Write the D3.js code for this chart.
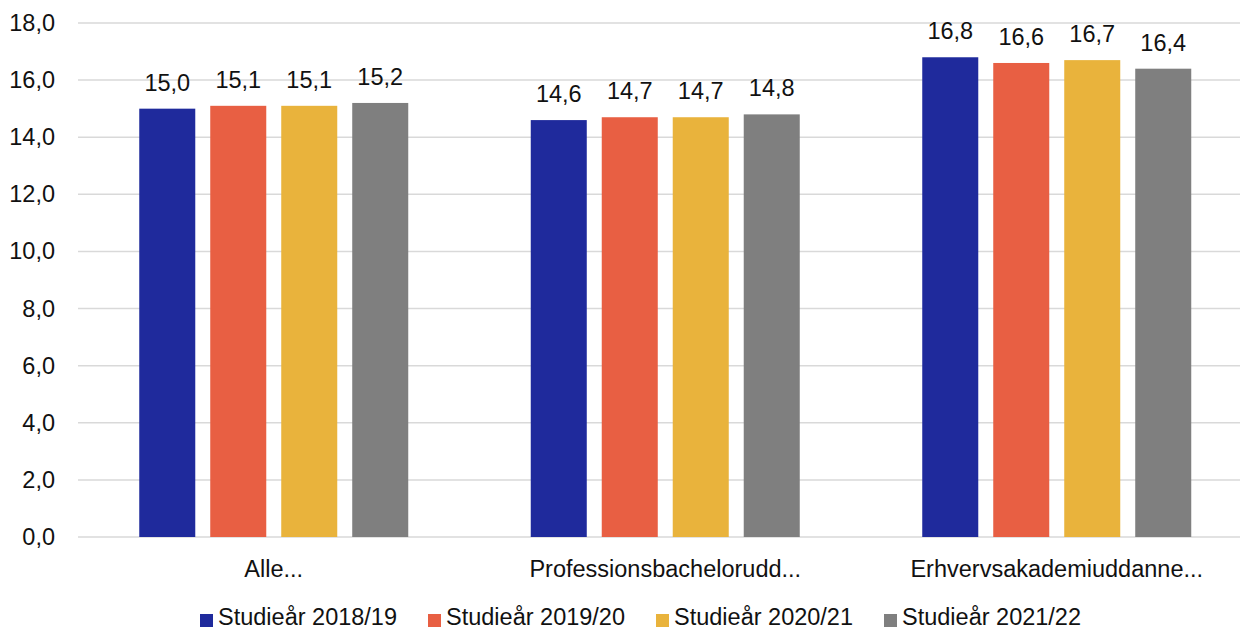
<!DOCTYPE html>
<html>
<head>
<meta charset="utf-8">
<script src="https://cdn.jsdelivr.net/npm/d3@7"></script>
<style>
  body { margin: 0; background: #fff; }
  svg { font-family: "Liberation Sans", Arial, sans-serif; }
</style>
</head>
<body>
<div class="plot1"></div>
<script>
var categories = ["Alle...", "Professionsbachelorudd...", "Erhvervsakademiuddanne..."];
var seriesNames = ["Studieår 2018/19", "Studieår 2019/20", "Studieår 2020/21", "Studieår 2021/22"];
var seriesColors = ["#1f2a9c", "#e85f43", "#e9b33c", "#7f7f7f"];
var values2018 = [15.0, 14.6, 16.8];
var values2019 = [15.1, 14.7, 16.6];
var values2020 = [15.1, 14.7, 16.7];
var values2021 = [15.2, 14.8, 16.4];
var yTicks = [0, 2, 4, 6, 8, 10, 12, 14, 16, 18];

var allValues = [values2018, values2019, values2020, values2021];

function plotBars() {
  var width = 1240;
  var height = 630;
  var fs = "23.5px";

  var svg = d3.select(".plot1").append("svg")
    .attr("width", width)
    .attr("height", height);

  var x0 = d3.scaleBand()
    .domain(categories)
    .range([78, 1252.5]);

  var x1 = d3.scaleBand()
    .domain(seriesNames)
    .range([0, 269])
    .paddingInner(0.211);

  var y = d3.scaleLinear()
    .domain([0, 18])
    .range([537, 23]);

  var fmt = function(v) { return d3.format(".1f")(v).replace(".", ","); };

  // gridlines
  svg.append("g")
    .selectAll("line")
    .data(yTicks)
    .join("line")
    .attr("x1", 78)
    .attr("x2", width)
    .attr("y1", d => y(d))
    .attr("y2", d => y(d))
    .attr("stroke", "#d9d9d9")
    .attr("stroke-width", 1.5);

  // y tick labels
  svg.append("g")
    .selectAll("text")
    .data(yTicks)
    .join("text")
    .attr("x", 55)
    .attr("y", d => y(d) + 8)
    .attr("text-anchor", "end")
    .style("font-size", fs)
    .attr("fill", "#111")
    .text(fmt);

  // bars
  var groups = svg.append("g")
    .selectAll("g")
    .data(categories)
    .join("g")
    .attr("transform", function(d) {
      return "translate(" + (x0(d) + (x0.bandwidth() - 269) / 2) + ",0)";
    });

  var cells = groups.selectAll("g")
    .data(function(d, i) {
      return seriesNames.map(function(s, j) {
        return { series: s, color: seriesColors[j], value: allValues[j][i] };
      });
    })
    .join("g");

  cells.append("rect")
    .attr("x", d => x1(d.series))
    .attr("width", x1.bandwidth())
    .attr("y", d => y(d.value))
    .attr("height", d => y(0) - y(d.value))
    .attr("fill", d => d.color);

  cells.append("text")
    .attr("x", d => x1(d.series) + x1.bandwidth() / 2)
    .attr("y", d => y(d.value) - 18)
    .attr("text-anchor", "middle")
    .style("font-size", fs)
    .attr("fill", "#111")
    .text(d => fmt(d.value));

  // category labels
  svg.append("g")
    .selectAll("text")
    .data(categories)
    .join("text")
    .attr("x", d => x0(d) + x0.bandwidth() / 2)
    .attr("y", 577)
    .attr("text-anchor", "middle")
    .style("font-size", fs)
    .attr("fill", "#111")
    .text(d => d);

  // legend
  var legendX = [200, 428, 656, 884];
  var legend = svg.append("g")
    .selectAll("g")
    .data(seriesNames)
    .join("g")
    .attr("transform", (d, i) => "translate(" + legendX[i] + ",614)");

  legend.append("rect")
    .attr("width", 13)
    .attr("height", 13)
    .attr("fill", (d, i) => seriesColors[i]);

  legend.append("text")
    .attr("x", 18)
    .attr("y", 11)
    .style("font-size", fs)
    .attr("fill", "#111")
    .text(d => d);
}

plotBars();
</script>
</body>
</html>
